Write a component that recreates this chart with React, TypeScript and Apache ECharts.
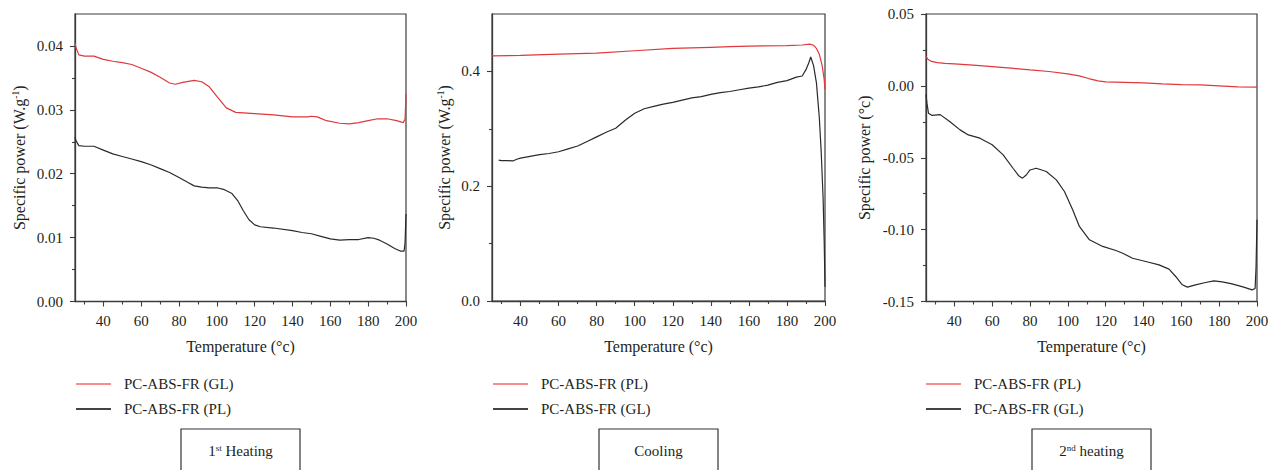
import React, { useEffect, useRef } from "react";
import * as echarts from "echarts";

// ---------- data ----------
const xLabelValues = [40, 60, 80, 100, 120, 140, 160, 180, 200];
const xMinorValues = [30, 50, 70, 90, 110, 130, 150, 170, 190];

// Panel 1: 1st heating
const h1YLabels = [0, 0.01, 0.02, 0.03, 0.04];
const h1YMinor = [0.005, 0.015, 0.025, 0.035];
const h1GLTemp = [25, 25.5, 27, 30, 35, 40, 45, 50, 55, 60, 65, 70, 75, 78, 82, 88, 92, 96, 100, 105, 110, 120, 130, 140, 148, 150, 153, 158, 165, 170, 175, 180, 185, 190, 195, 198.5, 199.5, 199.8, 200];
const h1GLPower = [0.0405, 0.0398, 0.0386, 0.0384, 0.0384, 0.0379, 0.0376, 0.0374, 0.0371, 0.0365, 0.0359, 0.0351, 0.0342, 0.034, 0.0343, 0.0346, 0.0344, 0.0336, 0.0321, 0.0303, 0.0296, 0.0294, 0.0292, 0.0289, 0.0289, 0.029, 0.0289, 0.0283, 0.0279, 0.0278, 0.028, 0.0283, 0.0286, 0.0286, 0.0283, 0.028, 0.0285, 0.0307, 0.0325];
const h1PLTemp = [25, 25.5, 27, 30, 35, 40, 45, 50, 55, 60, 65, 70, 75, 80, 85, 88, 92, 96, 100, 104, 108, 111, 114, 117, 120, 123, 130, 140, 145, 150, 155, 160, 165, 170, 175, 180, 183, 186, 190, 194, 197, 199, 199.5, 200];
const h1PLPower = [0.0257, 0.0252, 0.0244, 0.0243, 0.0243, 0.0237, 0.0231, 0.0227, 0.0223, 0.0219, 0.0214, 0.0208, 0.0202, 0.0194, 0.0186, 0.0181, 0.0179, 0.0178, 0.0178, 0.0175, 0.0169, 0.0158, 0.0142, 0.0128, 0.012, 0.0117, 0.0115, 0.0111, 0.0108, 0.0106, 0.0102, 0.0098, 0.0096, 0.0097, 0.0097, 0.01, 0.0099, 0.0096, 0.009, 0.0083, 0.0079, 0.0079, 0.0092, 0.0137];

// Panel 2: cooling
const coolYLabels = [0, 0.2, 0.4];
const coolYMinor = [0.1, 0.3];
const coolPLTemp = [25, 40, 60, 80, 100, 120, 140, 150, 160, 180, 188, 192, 194, 195.5, 197, 198.5, 199.5, 200];
const coolPLPower = [0.427, 0.428, 0.43, 0.432, 0.436, 0.44, 0.442, 0.443, 0.444, 0.445, 0.446, 0.4475, 0.4455, 0.44, 0.43, 0.41, 0.388, 0.369];
const coolGLTemp = [28.5, 30, 33, 36, 38, 40, 45, 50, 55, 60, 65, 70, 75, 80, 85, 90, 95, 100, 105, 110, 115, 120, 125, 130, 135, 140, 145, 150, 155, 160, 165, 170, 175, 180, 185, 188, 190, 191.5, 192.5, 194, 195.5, 197, 198, 199, 199.6, 200];
const coolGLPower = [0.2455, 0.2445, 0.2445, 0.244, 0.247, 0.249, 0.252, 0.255, 0.257, 0.26, 0.265, 0.27, 0.278, 0.286, 0.294, 0.301, 0.315, 0.327, 0.335, 0.339, 0.343, 0.346, 0.35, 0.354, 0.356, 0.36, 0.363, 0.365, 0.368, 0.371, 0.373, 0.376, 0.381, 0.384, 0.39, 0.392, 0.403, 0.415, 0.425, 0.41, 0.38, 0.32, 0.26, 0.18, 0.1, 0.025];

// Panel 3: 2nd heating
const h2YLabels = [-0.15, -0.1, -0.05, 0, 0.05];
const h2YMinor = [-0.125, -0.075, -0.025, 0.025];
const h2PLTemp = [25, 26, 28, 31, 35, 40, 50, 60, 70, 80, 90, 100, 106, 111, 116, 120, 130, 140, 150, 160, 170, 180, 190, 200];
const h2PLPower = [0.0205, 0.0185, 0.017, 0.0162, 0.0157, 0.0153, 0.0144, 0.0134, 0.0123, 0.0111, 0.01, 0.0083, 0.007, 0.0051, 0.0035, 0.0028, 0.0025, 0.0021, 0.0014, 0.0009, 0.0007, 0, -0.0007, -0.0009];
const h2GLTemp = [25, 25.5, 26.3, 28, 32.5, 37.7, 43, 47.4, 53.5, 60, 65.8, 71, 74, 76, 78, 80, 83.3, 88.6, 93.9, 98.2, 102.6, 106.1, 111.4, 118.4, 125.4, 129, 134.2, 141.2, 148.2, 153.5, 157, 160.5, 163.2, 167.5, 172.8, 177.2, 181.6, 186.8, 193, 197.4, 199, 199.5, 200];
const h2GLPower = [-0.006, -0.012, -0.019, -0.0205, -0.02, -0.0249, -0.0306, -0.0341, -0.0364, -0.041, -0.048, -0.0573, -0.0625, -0.0642, -0.062, -0.0585, -0.0573, -0.0596, -0.0654, -0.0735, -0.0863, -0.0978, -0.1071, -0.1117, -0.1145, -0.1164, -0.1199, -0.1222, -0.1245, -0.1275, -0.1326, -0.1384, -0.14, -0.1384, -0.1368, -0.1356, -0.1363, -0.1377, -0.14, -0.1419, -0.141, -0.126, -0.0932];

const legendH1 = ["PC-ABS-FR (GL)", "PC-ABS-FR (PL)"];
const legendCool = ["PC-ABS-FR (PL)", "PC-ABS-FR (GL)"];
const legendH2 = ["PC-ABS-FR (PL)", "PC-ABS-FR (GL)"];

// ---------- styles ----------
const FONT = '"Liberation Serif", "DejaVu Serif", serif';
const RED = "#e0383c";
const BLACK = "#2a2a2a";
const AXIS = "#3c3c3c";
const TEXT = "#231f20";

const zip = (xs: number[], ys: number[]) => xs.map((x, i) => [x, ys[i]]);

type Panel = {
  grid: { left: number; top: number; width: number; height: number };
  yMin: number;
  yMax: number;
  yLabels: number[];
  yMinor: number[];
  digits: number;
  yName: string;
  yGap: number;
  red: number[][];
  black: number[][];
  legend: string[];
  legendX: number;
  box: { x: number; w: number; text: string };
};

const panels: Panel[] = [
  {
    grid: { left: 75, top: 14, width: 331, height: 287.5 },
    yMin: 0, yMax: 0.045, yLabels: h1YLabels, yMinor: h1YMinor, digits: 2,
    yName: "{n|Specific power (W.g}{t|-1}{n|)}", yGap: 48,
    red: zip(h1GLTemp, h1GLPower), black: zip(h1PLTemp, h1PLPower),
    legend: legendH1, legendX: 76,
    box: { x: 181, w: 119, text: "{a|1}{s|st}{a| Heating}" },
  },
  {
    grid: { left: 492, top: 14, width: 333, height: 287 },
    yMin: 0, yMax: 0.5, yLabels: coolYLabels, yMinor: coolYMinor, digits: 1,
    yName: "{n|Specific power (W.g}{t|-1}{n|)}", yGap: 40,
    red: zip(coolPLTemp, coolPLPower), black: zip(coolGLTemp, coolGLPower),
    legend: legendCool, legendX: 493,
    box: { x: 599, w: 119, text: "{a|Cooling}" },
  },
  {
    grid: { left: 926, top: 14, width: 331, height: 287.5 },
    yMin: -0.15, yMax: 0.05, yLabels: h2YLabels, yMinor: h2YMinor, digits: 2,
    yName: "{n|Specific power (°c)}", yGap: 54,
    red: zip(h2PLTemp, h2PLPower), black: zip(h2GLTemp, h2GLPower),
    legend: legendH2, legendX: 926,
    box: { x: 1032, w: 119, text: "{a|2}{s|nd}{a| heating}" },
  },
];

const richText = {
  a: { fontFamily: FONT, fontSize: 15, color: TEXT },
  s: { fontFamily: FONT, fontSize: 9, color: TEXT, verticalAlign: "top" as const },
  n: { fontFamily: FONT, fontSize: 16, color: TEXT },
  t: { fontFamily: FONT, fontSize: 9.5, color: TEXT, verticalAlign: "top" as const },
};

function buildOption() {
  const grid: any[] = [];
  const xAxis: any[] = [];
  const yAxis: any[] = [];
  const series: any[] = [];
  const graphic: any[] = [];

  panels.forEach((p, i) => {
    grid.push({ ...p.grid, show: true, borderColor: AXIS, borderWidth: 1.2, backgroundColor: "transparent" });
    xAxis.push({
      type: "value", gridIndex: i, min: 25, max: 200, position: "bottom",
      axisLine: { show: true, onZero: false, lineStyle: { color: AXIS, width: 1.3 } },
      axisTick: { show: true, customValues: xLabelValues, length: 5, lineStyle: { color: AXIS, width: 1.1 } },
      axisLabel: { customValues: xLabelValues, margin: 12, fontFamily: FONT, fontSize: 15, color: TEXT, formatter: (v: number) => String(v) },
      splitLine: { show: false },
      name: "Temperature (°c)", nameLocation: "middle", nameGap: 37,
      nameTextStyle: { fontFamily: FONT, fontSize: 16, color: TEXT },
    });
    xAxis.push({
      type: "value", gridIndex: i, min: 25, max: 200, position: "bottom",
      axisLine: { show: false, onZero: false },
      axisTick: { show: true, customValues: xMinorValues, length: 3, lineStyle: { color: AXIS, width: 1.1 } },
      axisLabel: { show: false },
      splitLine: { show: false },
    });
    yAxis.push({
      type: "value", gridIndex: i, min: p.yMin, max: p.yMax, position: "left",
      axisLine: { show: true, onZero: false, lineStyle: { color: AXIS, width: 1.3 } },
      axisTick: { show: true, customValues: p.yLabels, length: 5, lineStyle: { color: AXIS, width: 1.1 } },
      axisLabel: { customValues: p.yLabels, margin: 12, fontFamily: FONT, fontSize: 15, color: TEXT, formatter: (v: number) => v.toFixed(p.digits) },
      splitLine: { show: false },
      name: p.yName, nameLocation: "middle", nameGap: p.yGap, nameRotate: 90,
      nameTextStyle: { fontFamily: FONT, fontSize: 16, color: TEXT, rich: richText },
    });
    yAxis.push({
      type: "value", gridIndex: i, min: p.yMin, max: p.yMax, position: "left",
      axisLine: { show: false, onZero: false },
      axisTick: { show: true, customValues: p.yMinor, length: 3, lineStyle: { color: AXIS, width: 1.1 } },
      axisLabel: { show: false },
      splitLine: { show: false },
    });
    series.push({
      type: "line", name: `${i}-red`, xAxisIndex: 2 * i, yAxisIndex: 2 * i, data: p.red,
      showSymbol: false, lineStyle: { color: RED, width: 1.2 }, itemStyle: { color: RED },
    });
    series.push({
      type: "line", name: `${i}-black`, xAxisIndex: 2 * i, yAxisIndex: 2 * i, data: p.black,
      showSymbol: false, lineStyle: { color: BLACK, width: 1.2 }, itemStyle: { color: BLACK },
    });

    // legend
    const lx = p.legendX;
    graphic.push({ type: "line", shape: { x1: lx, y1: 384, x2: lx + 35, y2: 384 }, style: { stroke: "#ee1c25", lineWidth: 1.2 } });
    graphic.push({ type: "line", shape: { x1: lx, y1: 409, x2: lx + 35, y2: 409 }, style: { stroke: "#444", lineWidth: 1.8 } });
    graphic.push({ type: "text", x: lx + 48, y: 384, style: { text: p.legend[0], font: `15px ${FONT}`, fill: TEXT, verticalAlign: "middle", align: "left" } });
    graphic.push({ type: "text", x: lx + 48, y: 409, style: { text: p.legend[1], font: `15px ${FONT}`, fill: TEXT, verticalAlign: "middle", align: "left" } });
    // caption box
    graphic.push({ type: "rect", shape: { x: p.box.x, y: 429, width: p.box.w, height: 60 }, style: { fill: "none", stroke: "#333", lineWidth: 1.2 } });
    graphic.push({
      type: "text", x: p.box.x + p.box.w / 2, y: 451,
      style: { text: p.box.text, rich: richText, align: "center", verticalAlign: "middle", font: `15px ${FONT}`, fill: TEXT },
    });
  });

  return { animation: false, backgroundColor: "#fff", grid, xAxis, yAxis, series, graphic };
}

export default function App() {
  const ref = useRef<HTMLDivElement>(null);
  useEffect(() => {
    if (!ref.current) return;
    const chart = echarts.init(ref.current, undefined, { renderer: "svg" });
    chart.setOption(buildOption() as any);
    return () => chart.dispose();
  }, []);
  return (
    <div
      ref={ref}
      style={{ position: "fixed", left: 0, top: 0, width: 1280, height: 470, background: "#fff" }}
    />
  );
}
